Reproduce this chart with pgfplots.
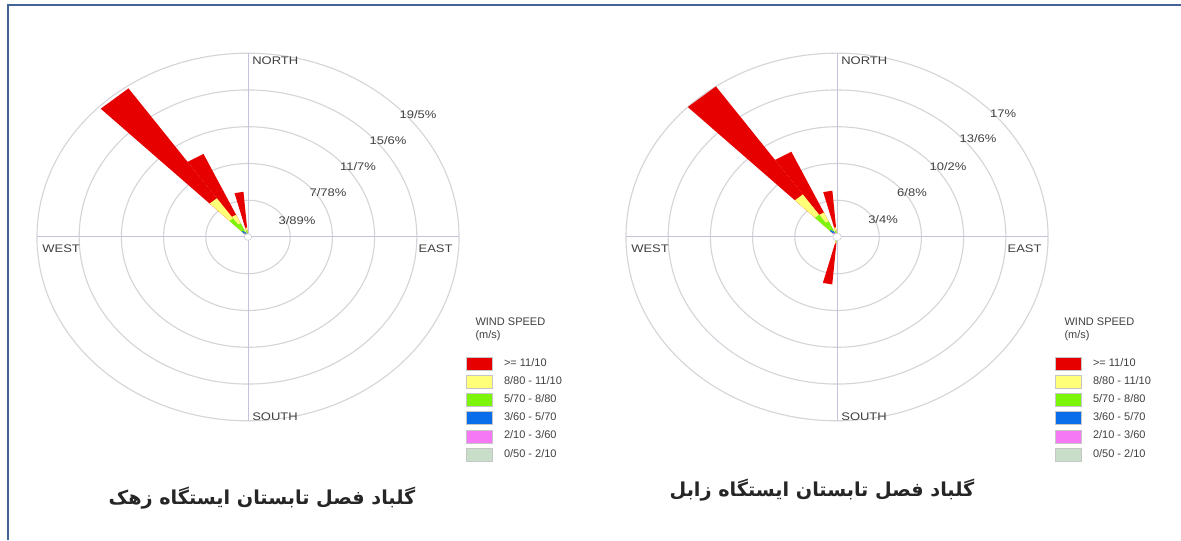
\documentclass[border=0pt]{standalone}
\usepackage{pgfplots}
\pgfplotsset{compat=1.18}
\usepackage{fontspec}
\setmainfont{Liberation Sans}
\newfontfamily\arabicfont[Script=Arabic]{DejaVu Sans}
\newfontfamily\widefont[FakeStretch=1.18]{Liberation Sans}
\TeXXeTstate=1
\definecolor{wrRed}{RGB}{230,0,0}
\definecolor{wrYel}{RGB}{255,255,120}
\definecolor{wrGrn}{RGB}{125,245,10}
\definecolor{wrBlu}{RGB}{10,110,235}
\definecolor{wrPnk}{RGB}{245,120,245}
\definecolor{wrGry}{RGB}{200,222,200}
\definecolor{frame}{RGB}{68,100,150}
\definecolor{ringc}{RGB}{212,212,218}
\definecolor{axc}{RGB}{195,195,220}
\newcommand\lbl{\fontsize{5.5}{6.5}\selectfont}
\newcommand\wlbl{\widefont\fontsize{5.5}{6.5}\selectfont}
% petal: colour, compass direction (deg), cumulative frequency (%)
\newcommand{\petal}[3]{%
  \addplot[fill=#1, draw=none, forget plot] table[row sep=\\,
    x expr={#3*\thisrow{k}*sin(#2+\thisrow{da})},
    y expr={#3*\thisrow{k}*cos(#2+\thisrow{da})}]
    {da k\\ 0 0\\ -5 1\\ 5 1\\};}
\tikzset{
  ring/.style={draw=ringc, line width=0.55pt},
  axl/.style={draw=axc, line width=0.5pt},
}
\pgfplotsset{
  rose/.style={scale only axis, width=217pt, height=189pt, anchor=center,
    hide axis, clip=false,
    legend cell align=left,
    legend image code/.code={\draw[##1, draw=gray!45, line width=0.3pt] (0pt,-3.25pt) rectangle (13pt,3.25pt);},
    legend style={at={(1.0023,0.184)}, anchor=north west, draw=none, fill=none,
      inner sep=0pt, row sep=2.3pt, column sep=5.5pt,
      nodes={inner sep=0pt, minimum height=6.5pt, font=\lbl, text=black!75}},
  },
}
\newcommand{\legendentries}{%
  \addlegendimage{fill=wrRed}\addlegendentry{>= 11/10}
  \addlegendimage{fill=wrYel}\addlegendentry{8/80 - 11/10}
  \addlegendimage{fill=wrGrn}\addlegendentry{5/70 - 8/80}
  \addlegendimage{fill=wrBlu}\addlegendentry{3/60 - 5/70}
  \addlegendimage{fill=wrPnk}\addlegendentry{2/10 - 3/60}
  \addlegendimage{fill=wrGry}\addlegendentry{0/50 - 2/10}
  \node[anchor=west, font=\lbl, text=black!75] at (axis description cs:1.008,0.275) {WIND SPEED};
  \node[anchor=west, font=\lbl, text=black!75] at (axis description cs:1.008,0.238) {(m/s)};
}
\begin{document}
\begin{tikzpicture}
\useasboundingbox (0,0) rectangle (590.5pt,270pt);
\fill[white] (0,0) rectangle (590.5pt,270pt);
\draw[frame, line width=1.1pt] (4pt,0) -- (4pt,267.5pt) -- (590.5pt,267.5pt);

% ---------------- Zahak ----------------
\begin{axis}[rose, at={(124pt,151.5pt)}, xmin=-20, xmax=20, ymin=-20, ymax=20]
\pgfplotsinvokeforeach{3.89,7.78,11.67,15.56,19.45}{\draw[ring] (axis cs:0,0) ellipse [x radius=#1, y radius=#1];}
\draw[axl] (axis cs:-19.45,0) -- (axis cs:19.45,0);
\draw[axl] (axis cs:0,-19.45) -- (axis cs:0,19.45);
% >= 11.10
\petal{wrRed}{320}{19.2}\petal{wrRed}{330}{9.7}\petal{wrRed}{350}{4.8}
% 8.80-11.10
\petal{wrYel}{320}{5.0}\petal{wrYel}{330}{2.6}\petal{wrYel}{350}{1.0}
% 5.70-8.80
\petal{wrGrn}{320}{2.4}\petal{wrGrn}{330}{1.6}\petal{wrGrn}{350}{0.7}
% 3.60-5.70
\petal{wrBlu}{320}{0.8}\petal{wrBlu}{330}{0.6}\petal{wrBlu}{350}{0.4}
% 2.10-3.60
\petal{wrPnk}{320}{0.5}\petal{wrPnk}{330}{0.4}\petal{wrPnk}{350}{0.25}
% 0.50-2.10
\petal{wrGry}{320}{0.3}\petal{wrGry}{330}{0.2}\petal{wrGry}{350}{0.15}
\draw[draw=gray!40, fill=white, line width=0.3pt] (axis cs:0,0) ellipse [x radius=0.35, y radius=0.35];
\legendentries
\begin{scope}[every node/.style={font=\wlbl, text=black!75, inner sep=0.6pt}]
\node at (axis cs:4.52,1.69) {3/89\%};
\node at (axis cs:7.37,4.65) {7/78\%};
\node at (axis cs:10.14,7.40) {11/7\%};
\node at (axis cs:12.90,10.25) {15/6\%};
\node at (axis cs:15.67,13.0) {19/5\%};
\node[anchor=north west] at (axis cs:0.25,19.2) {NORTH};
\node[anchor=south west] at (axis cs:0.25,-19.55) {SOUTH};
\node[anchor=north west] at (axis cs:-19.1,-0.7) {WEST};
\node[anchor=north east] at (axis cs:19.0,-0.7) {EAST};
\end{scope}
\end{axis}

% ---------------- Zabol ----------------
\begin{axis}[rose, at={(418.5pt,151.5pt)}, xmin=-17.48, xmax=17.48, ymin=-17.48, ymax=17.48]
\pgfplotsinvokeforeach{3.4,6.8,10.2,13.6,17}{\draw[ring] (axis cs:0,0) ellipse [x radius=#1, y radius=#1];}
\draw[axl] (axis cs:-17,0) -- (axis cs:17,0);
\draw[axl] (axis cs:0,-17) -- (axis cs:0,17);
% >= 11.10
\petal{wrRed}{320}{17.0}\petal{wrRed}{330}{8.7}\petal{wrRed}{350}{4.3}\petal{wrRed}{190}{4.4}
% 8.80-11.10
\petal{wrYel}{320}{4.8}\petal{wrYel}{330}{2.5}\petal{wrYel}{350}{0.9}\petal{wrYel}{190}{0.6}
% 5.70-8.80
\petal{wrGrn}{320}{2.5}\petal{wrGrn}{330}{1.6}\petal{wrGrn}{350}{0.6}\petal{wrGrn}{190}{0.45}
% 3.60-5.70
\petal{wrBlu}{320}{0.8}\petal{wrBlu}{330}{0.6}\petal{wrBlu}{350}{0.3}\petal{wrBlu}{190}{0.3}
% 2.10-3.60
\petal{wrPnk}{320}{0.5}\petal{wrPnk}{330}{0.4}\petal{wrPnk}{350}{0.2}\petal{wrPnk}{190}{0.2}
% 0.50-2.10
\petal{wrGry}{320}{0.3}\petal{wrGry}{330}{0.2}\petal{wrGry}{350}{0.1}\petal{wrGry}{190}{0.1}
\draw[draw=gray!40, fill=white, line width=0.3pt] (axis cs:0,0) ellipse [x radius=0.35, y radius=0.35];
\legendentries
\begin{scope}[every node/.style={font=\wlbl, text=black!75, inner sep=0.6pt}]
\node at (axis cs:3.71,1.57) {3/4\%};
\node at (axis cs:6.04,4.07) {6/8\%};
\node at (axis cs:8.94,6.47) {10/2\%};
\node at (axis cs:11.36,9.06) {13/6\%};
\node at (axis cs:13.38,11.37) {17\%};
\node[anchor=north west] at (axis cs:0.22,16.8) {NORTH};
\node[anchor=south west] at (axis cs:0.22,-17.1) {SOUTH};
\node[anchor=north west] at (axis cs:-16.7,-0.6) {WEST};
\node[anchor=north east] at (axis cs:16.6,-0.6) {EAST};
\end{scope}
\end{axis}

\node[font=\arabicfont\bfseries\fontsize{9.6}{12}\selectfont, text=black!85] at (131pt,21pt) {\beginR گلباد فصل تابستان ایستگاه زهک\endR};
\node[font=\arabicfont\bfseries\fontsize{9.6}{12}\selectfont, text=black!85] at (411pt,25pt) {\beginR گلباد فصل تابستان ایستگاه زابل\endR};
\end{tikzpicture}
\end{document}
